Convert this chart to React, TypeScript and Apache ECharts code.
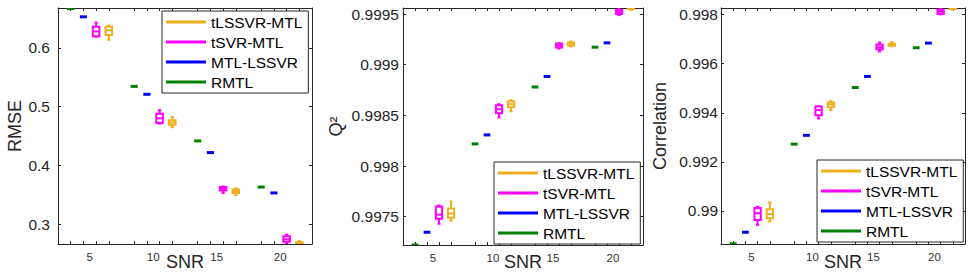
import React, { useEffect, useRef } from 'react';
import * as echarts from 'echarts';

// ---------- data ----------
const snrLevels = [5, 10, 15, 20];
const methods = ['tLSSVR-MTL', 'tSVR-MTL', 'MTL-LSSVR', 'RMTL'];
const methodColors = ['#EDB120', '#FF00FF', '#0000FF', '#008000'];
const methodOffsets = [1.5, 0.5, -0.5, -1.5];

// five-number summaries [min, q1, median, q3, max] per SNR level
const rmseTLSSVR = [[0.614, 0.622, 0.630, 0.636, 0.638], [0.465, 0.469, 0.473, 0.477, 0.482], [0.349, 0.353, 0.356, 0.359, 0.361], [0.266, 0.267, 0.268, 0.269, 0.271]];
const rmseTSVR = [[0.619, 0.620, 0.628, 0.636, 0.643], [0.471, 0.472, 0.480, 0.488, 0.494], [0.353, 0.357, 0.360, 0.363, 0.364], [0.267, 0.270, 0.274, 0.279, 0.282]];
const rmseMTLLSSVR = [0.653, 0.521, 0.4217, 0.353];
const rmseRMTL = [0.667, 0.5345, 0.4416, 0.363];

const q2TLSSVR = [[0.99746, 0.99749, 0.99753, 0.99758, 0.99765], [0.99854, 0.99858, 0.99861, 0.99864, 0.99865], [0.99918, 0.99919, 0.99921, 0.99922, 0.99923], [0.99954, 0.99955, 0.99955, 0.99956, 0.99956]];
const q2TSVR = [[0.99743, 0.99748, 0.99752, 0.99760, 0.99761], [0.99848, 0.99852, 0.99856, 0.99860, 0.99861], [0.99916, 0.99917, 0.99919, 0.99921, 0.99921], [0.99949, 0.99950, 0.99952, 0.99954, 0.99955]];
const q2MTLLSSVR = [0.997346, 0.998307, 0.998884, 0.999216];
const q2RMTL = [0.99722, 0.998218, 0.99878, 0.999173];

const corrTLSSVR = [[0.98957, 0.98970, 0.98987, 0.99007, 0.99035], [0.99411, 0.99422, 0.99434, 0.99442, 0.99447], [0.99671, 0.99673, 0.99677, 0.99681, 0.99688], [0.99821, 0.99823, 0.99826, 0.99828, 0.99834]];
const corrTSVR = [[0.98943, 0.98963, 0.98991, 0.99012, 0.99017], [0.99377, 0.99390, 0.99411, 0.99425, 0.99427], [0.99650, 0.99658, 0.99667, 0.99678, 0.99686], [0.99801, 0.99803, 0.99812, 0.99820, 0.99824]];
const corrMTLLSSVR = [0.98913, 0.99308, 0.99548, 0.99684];
const corrRMTL = [0.98866, 0.99272, 0.99503, 0.99665];

const rmseTicks = [0.3, 0.4, 0.5, 0.6];
const q2Ticks = [0.9975, 0.998, 0.9985, 0.999, 0.9995];
const corrTicks = [0.99, 0.992, 0.994, 0.996, 0.998];

const FONT = '"Liberation Sans", Arial, Helvetica, sans-serif';
const AXIS_COLOR = '#262626';

const flat = (vals: number[]) => vals.map((v) => [v, v, v, v, v]);

const panels = [
  {
    title: 'RMSE', ticks: rmseTicks, min: 0.266, max: 0.668, labelMargin: 8,
    grid: { left: 58, top: 8, width: 254, height: 236 },
    data: [rmseTLSSVR, rmseTSVR, flat(rmseMTLLSSVR), flat(rmseRMTL)],
    titleX: 15,
    legend: { left: 162, top: 11 },
  },
  {
    title: 'Q\u00B2', ticks: q2Ticks, min: 0.99722, max: 0.99956, labelMargin: 4,
    grid: { left: 403, top: 8, width: 240, height: 237 },
    data: [q2TLSSVR, q2TSVR, flat(q2MTLLSSVR), flat(q2RMTL)],
    titleX: 336,
    legend: { left: 494, top: 162 },
  },
  {
    title: 'Correlation', ticks: corrTicks, min: 0.98865, max: 0.99827, labelMargin: 3,
    grid: { left: 721, top: 8, width: 244, height: 236 },
    data: [corrTLSSVR, corrTSVR, flat(corrMTLLSSVR), flat(corrRMTL)],
    titleX: 660,
    legend: { left: 817, top: 160 },
  },
];

const boxPositions = snrLevels.flatMap((s) => [...methodOffsets].sort((a, b) => a - b).map((o) => s + o));

function renderBox(params: any, api: any) {
  const x = api.value(0);
  const mn = api.coord([x, api.value(1)]);
  const q1 = api.coord([x, api.value(2)]);
  const md = api.coord([x, api.value(3)]);
  const q3 = api.coord([x, api.value(4)]);
  const mx = api.coord([x, api.value(5)]);
  const color = api.visual('color');
  const cx = md[0];
  const unit = api.size([1, 0])[0];
  const halfW = unit * 0.26;
  const capW = unit * 0.13;
  const line = { stroke: color, lineWidth: 2, fill: null };
  const children: any[] = [];
  if (Math.abs(q1[1] - q3[1]) < 1 && Math.abs(mn[1] - mx[1]) < 1) {
    const hw = unit * 0.28;
    children.push({ type: 'rect', shape: { x: cx - hw, y: md[1] - 1.5, width: hw * 2, height: 3 }, style: { fill: color } });
    return { type: 'group', children };
  }
  children.push({ type: 'line', shape: { x1: cx, y1: mx[1], x2: cx, y2: q3[1] }, style: line });
  children.push({ type: 'line', shape: { x1: cx, y1: q1[1], x2: cx, y2: mn[1] }, style: line });
  children.push({ type: 'line', shape: { x1: cx - capW, y1: mx[1], x2: cx + capW, y2: mx[1] }, style: line });
  children.push({ type: 'line', shape: { x1: cx - capW, y1: mn[1], x2: cx + capW, y2: mn[1] }, style: line });
  children.push({ type: 'rect', shape: { x: cx - halfW, y: q3[1], width: halfW * 2, height: q1[1] - q3[1] }, style: { stroke: color, lineWidth: 2, fill: '#ffffff' } });
  children.push({ type: 'line', shape: { x1: cx - halfW, y1: md[1], x2: cx + halfW, y2: md[1] }, style: line });
  return { type: 'group', children };
}

export default function App() {
  const ref = useRef<HTMLDivElement>(null);
  useEffect(() => {
    if (!ref.current) return;
    const chart = echarts.init(ref.current, undefined, { renderer: 'svg' });

    const grid: any[] = [];
    const xAxis: any[] = [];
    const yAxis: any[] = [];
    const series: any[] = [];
    const legend: any[] = [];
    const graphic: any[] = [];

    panels.forEach((p, i) => {
      grid.push({ ...p.grid, show: false });
      const xBase = {
        type: 'value', gridIndex: i, min: 2.5, max: 22.5,
        axisLine: { show: true, onZero: false, lineStyle: { color: AXIS_COLOR, width: 1 } },
        axisTick: { show: true, inside: true, length: 3, customValues: boxPositions, lineStyle: { color: AXIS_COLOR } },
        splitLine: { show: false },
      };
      xAxis.push({
        ...xBase, position: 'bottom',
        axisLabel: { show: true, customValues: snrLevels, fontSize: 11.5, color: '#333333', margin: 7, fontFamily: FONT },
      });
      xAxis.push({ ...xBase, position: 'top', axisLabel: { show: false } });
      const yBase = {
        type: 'value', gridIndex: i, min: p.min, max: p.max,
        axisLine: { show: true, onZero: false, lineStyle: { color: AXIS_COLOR, width: 1 } },
        axisTick: { show: true, inside: true, length: 3, customValues: p.ticks, lineStyle: { color: AXIS_COLOR } },
        splitLine: { show: false },
      };
      yAxis.push({
        ...yBase, position: 'left',
        axisLabel: { show: true, customValues: p.ticks, fontSize: 15.5, color: AXIS_COLOR, margin: p.labelMargin, fontFamily: FONT, formatter: (v: number) => String(+v.toFixed(6)) },
      });
      yAxis.push({ ...yBase, position: 'right', axisLabel: { show: false } });

      methods.forEach((m, k) => {
        series.push({
          type: 'custom', name: m, xAxisIndex: i * 2, yAxisIndex: i * 2,
          clip: true,
          itemStyle: { color: methodColors[k] },
          renderItem: renderBox,
          encode: { x: 0, y: [1, 2, 3, 4, 5] },
          data: snrLevels.map((s, j) => [s + methodOffsets[k], ...p.data[k][j]]),
        });
      });

      legend.push({
        orient: 'vertical', left: p.legend.left, top: p.legend.top,
        padding: [1, 6, 1, 4], itemGap: 0, itemWidth: 40, itemHeight: 3,
        backgroundColor: '#ffffff', borderColor: AXIS_COLOR, borderWidth: 1, borderRadius: 0,
        textStyle: { fontSize: 15.5, lineHeight: 20, color: '#000000', fontFamily: FONT },
        data: methods.map((m) => ({ name: m, icon: 'rect' })),
        selectedMode: false,
      });

      const cy = p.grid.top + p.grid.height / 2;
      graphic.push({
        type: 'text', x: p.titleX, y: cy, rotation: Math.PI / 2,
        style: { text: p.title, fontSize: 18, fontFamily: FONT, fill: AXIS_COLOR, align: 'center', verticalAlign: 'middle' },
      });
      graphic.push({
        type: 'text', x: p.grid.left + p.grid.width / 2, y: 262,
        style: { text: 'SNR', fontSize: 18, fontFamily: FONT, fill: AXIS_COLOR, align: 'center', verticalAlign: 'middle' },
      });
    });

    chart.setOption({
      animation: false,
      backgroundColor: '#ffffff',
      textStyle: { fontFamily: FONT },
      grid, xAxis, yAxis, series, legend, graphic,
    });
    return () => chart.dispose();
  }, []);
  return <div ref={ref} style={{ position: 'fixed', left: 0, top: 0, width: 975, height: 277 }} />;
}
